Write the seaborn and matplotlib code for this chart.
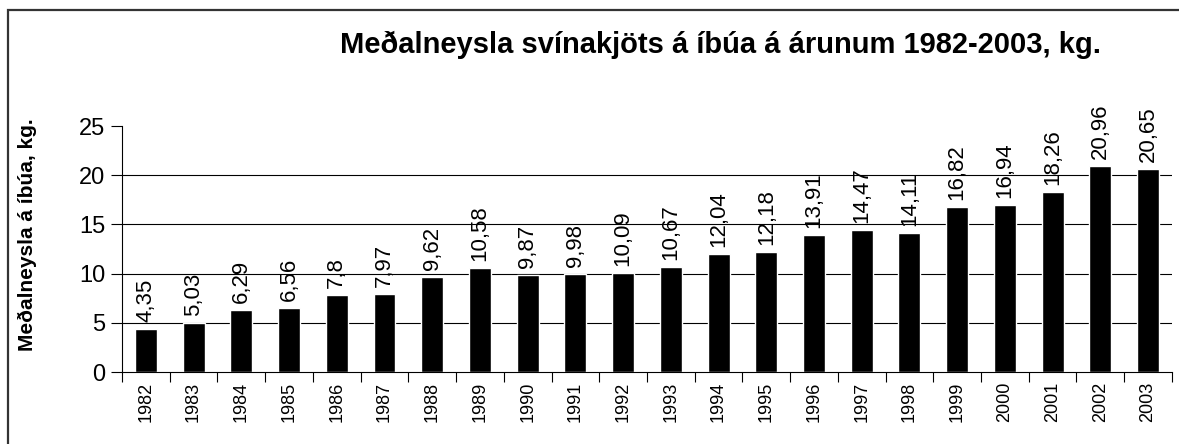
import numpy as np
import seaborn as sns
from matplotlib import pyplot as plt
from matplotlib.patches import Rectangle
from matplotlib.ticker import FixedLocator

years = [str(y) for y in range(1982, 2004)]
consumption = [4.35, 5.03, 6.29, 6.56, 7.8, 7.97, 9.62, 10.58, 9.87, 9.98, 10.09,
               10.67, 12.04, 12.18, 13.91, 14.47, 14.11, 16.82, 16.94, 18.26, 20.96, 20.65]
title = "Meðalneysla svínakjöts á íbúa á árunum 1982-2003, kg."
ylabel = "Meðalneysla á íbúa, kg."

sns.set_style("white")
plt.rcParams['font.family'] = ['Liberation Sans', 'DejaVu Sans']
plt.rcParams['text.color'] = 'black'
plt.rcParams['axes.labelcolor'] = 'black'
plt.rcParams['xtick.color'] = 'black'
plt.rcParams['ytick.color'] = 'black'

fig = plt.figure(figsize=(11.79, 4.44), dpi=100)
ax = fig.add_axes([0.1035, 0.162, 0.8905, 0.554])

sns.barplot(x=years, y=consumption, color="black", saturation=1, width=0.46, ax=ax)

ax.set_xlim(-0.5, len(years) - 0.5)
ax.set_ylim(0, 25)
ax.set_yticks([0, 5, 10, 15, 20, 25])
ax.tick_params(axis="y", labelsize=17, length=8, width=0.8, left=True, direction="out", pad=4)

# ticks between categories, labels under bars
ax.xaxis.set_minor_locator(FixedLocator(np.arange(-0.5, len(years), 1)))
ax.tick_params(axis="x", which="major", length=0, labelsize=13, labelrotation=90, pad=7)
ax.tick_params(axis="x", which="minor", length=7, width=0.8, bottom=True, direction="out")

for g in [5, 10, 15, 20]:
    ax.axhline(g, color="black", lw=0.8, zorder=0)

for s in ["top", "right"]:
    ax.spines[s].set_visible(False)
for s in ["left", "bottom"]:
    ax.spines[s].set_color("black")
    ax.spines[s].set_linewidth(0.8)

labels = [f"{v:g}".replace(".", ",") for v in consumption]
ax.bar_label(ax.containers[0], labels=labels, rotation=90, padding=5, fontsize=16)

ax.set_xlabel("")
ax.set_ylabel(ylabel, fontsize=15, fontweight="bold")
ax.yaxis.set_label_coords(-0.081, 0.557)

fig.text(0.611, 0.90, title, fontsize=21, fontweight="bold", ha="center", va="center")

fig.patches.append(Rectangle((8 / 1179, -0.1), 1.2, 0.9775 + 0.1, transform=fig.transFigure,
                             fill=False, edgecolor="#333333", lw=1.6, clip_on=False))

plt.savefig("out.png")
plt.close()
